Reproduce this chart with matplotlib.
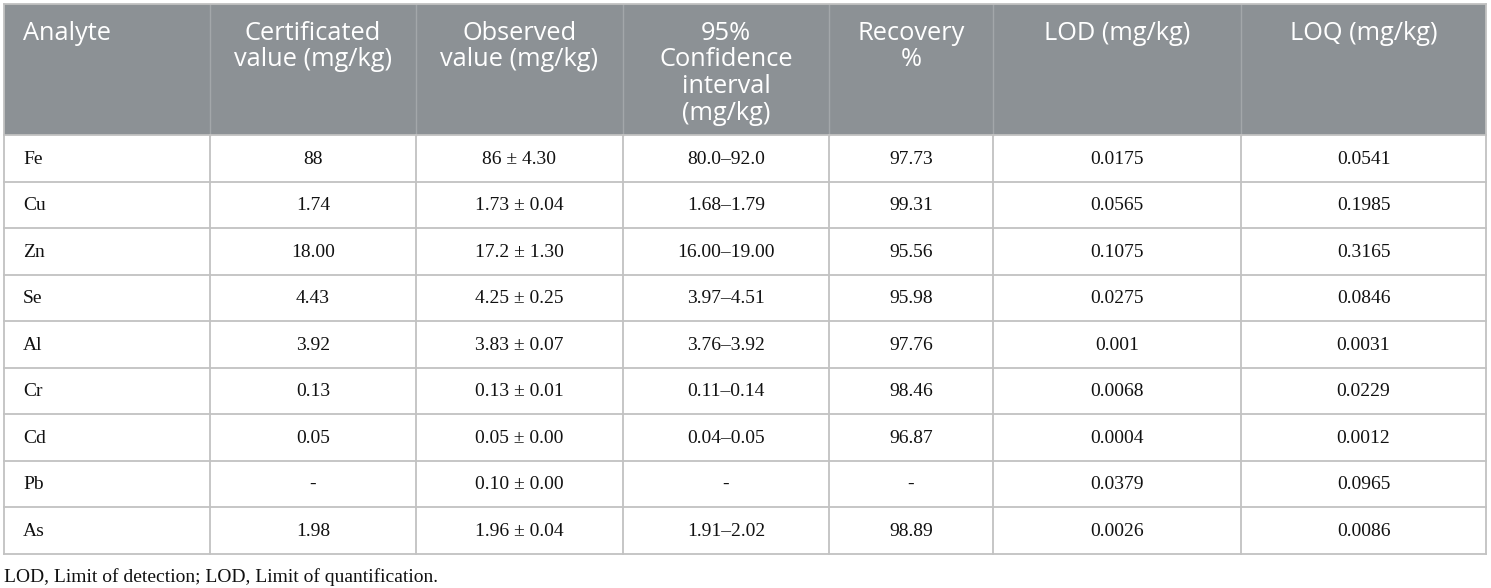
import matplotlib
matplotlib.use("Agg")
import matplotlib.pyplot as plt
from matplotlib.patches import Rectangle

# table content
header = [["Analyte"],
          ["Certificated", "value (mg/kg)"],
          ["Observed", "value (mg/kg)"],
          ["95%", "Confidence", "interval", "(mg/kg)"],
          ["Recovery", "%"],
          ["LOD (mg/kg)"],
          ["LOQ (mg/kg)"]]

analytes = ["Fe", "Cu", "Zn", "Se", "Al", "Cr", "Cd", "Pb", "As"]
certified = ["88", "1.74", "18.00", "4.43", "3.92", "0.13", "0.05", "-", "1.98"]
observed = ["86 ± 4.30", "1.73 ± 0.04", "17.2 ± 1.30", "4.25 ± 0.25", "3.83 ± 0.07",
            "0.13 ± 0.01", "0.05 ± 0.00", "0.10 ± 0.00", "1.96 ± 0.04"]
conf_int = ["80.0–92.0", "1.68–1.79", "16.00–19.00", "3.97–4.51", "3.76–3.92",
            "0.11–0.14", "0.04–0.05", "-", "1.91–2.02"]
recovery = ["97.73", "99.31", "95.56", "95.98", "97.76", "98.46", "96.87", "-", "98.89"]
lod = ["0.0175", "0.0565", "0.1075", "0.0275", "0.001", "0.0068", "0.0004", "0.0379", "0.0026"]
loq = ["0.0541", "0.1985", "0.3165", "0.0846", "0.0031", "0.0229", "0.0012", "0.0965", "0.0086"]

footnote = "LOD, Limit of detection; LOD, Limit of quantification."

columns = [analytes, certified, observed, conf_int, recovery, lod, loq]

# layout in pixels
W, H = 1491, 588
col_edges = [4, 210, 416, 623, 829, 993, 1241, 1486]
top, head_bot, row_h = 4, 135, 46.5
n_rows = len(analytes)
bottom = head_bot + n_rows * row_h

head_col = "#8c9195"
grid_col = "#c2c2c2"

fig = plt.figure(figsize=(W / 100, H / 100), dpi=100)
ax = fig.add_axes([0, 0, 1, 1])
ax.set_xlim(0, W)
ax.set_ylim(H, 0)
ax.axis("off")

# header band
ax.add_patch(Rectangle((col_edges[0], top), col_edges[-1] - col_edges[0], head_bot - top,
                       facecolor=head_col, edgecolor="none"))
for x in col_edges[1:-1]:
    ax.plot([x, x], [top, head_bot], color="#a3a7aa", lw=1)
    ax.plot([x, x], [head_bot, bottom], color=grid_col, lw=1.3)
for x in (col_edges[0], col_edges[-1]):
    ax.plot([x, x], [top, bottom], color=grid_col, lw=1.3)
ax.plot([col_edges[0], col_edges[-1]], [top, top], color=grid_col, lw=1.3)
for i in range(n_rows + 1):
    y = head_bot + i * row_h
    ax.plot([col_edges[0], col_edges[-1]], [y, y], color=grid_col, lw=1.3)

hfont = dict(family="Open Sans", size=18.3, color="white")
for j, lines in enumerate(header):
    for k, line in enumerate(lines):
        y = 39.5 + k * 26.7
        if j == 0:
            ax.text(col_edges[0] + 19, y, line, ha="left", va="baseline", **hfont)
        else:
            cx = (col_edges[j] + col_edges[j + 1]) / 2
            ax.text(cx, y, line, ha="center", va="baseline", **hfont)

bfont = dict(family="Liberation Serif", size=14, color="#111111")
for j, col in enumerate(columns):
    for i, val in enumerate(col):
        y = head_bot + (i + 0.5) * row_h + 1
        if j == 0:
            ax.text(col_edges[0] + 19, y, val, ha="left", va="center", **bfont)
        else:
            cx = (col_edges[j] + col_edges[j + 1]) / 2
            ax.text(cx, y, val, ha="center", va="center", **bfont)

ax.text(col_edges[0], 577, footnote, ha="left", va="center", **bfont)

fig.savefig("out.png", dpi=100)
